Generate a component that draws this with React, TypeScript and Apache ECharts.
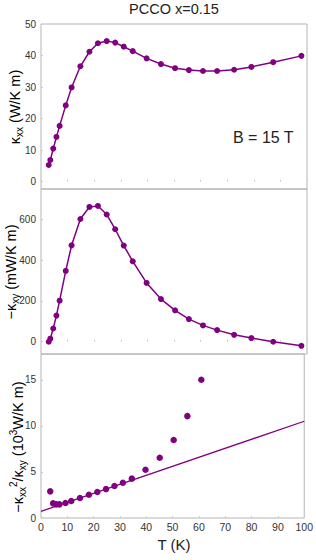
import React, { useEffect, useRef } from "react";
import * as echarts from "echarts";

const temps = [2.9, 3.5, 4.6, 5.8, 7.0, 9.3, 11.5, 14.8, 18.2, 21.4, 24.7, 27.9, 31.1, 34.5, 39.7, 45.1, 50.4, 55.6, 60.9, 66.2, 72.6, 79.1, 87.3, 97.9];
const kxx = [5.3, 6.9, 10.5, 14.2, 17.7, 24.2, 29.9, 36.6, 41.2, 43.9, 44.6, 44.1, 42.8, 41.4, 39.1, 37.3, 36.0, 35.4, 35.1, 35.1, 35.5, 36.4, 37.9, 39.9];
const kxy = [0, 15, 65, 128, 201, 347, 472, 601, 660, 665, 623, 551, 471, 394, 288, 209, 154, 111, 80, 57, 34, 18, 0, -20];
const ratioTemps = [3.5, 4.6, 5.8, 7.0, 9.3, 11.5, 14.8, 18.2, 21.4, 24.7, 27.9, 31.1, 34.5, 39.7, 45.1, 50.4, 55.6, 60.9];
const ratio = [2.89, 1.59, 1.48, 1.48, 1.63, 1.84, 2.17, 2.53, 2.82, 3.14, 3.47, 3.83, 4.27, 5.24, 6.54, 8.46, 11.06, 15.0];
const fitT = [0, 100];
const fitY = [0.72, 10.5];
const kxxTicks = [0, 10, 20, 30, 40, 50];
const kxyTicks = [0, 200, 400, 600];
const ratioTicks = [0, 5, 10, 15];

const PURPLE = "#800080";
const FONT = "'Liberation Sans', Arial, sans-serif";
const FRAME = "#b4b4b4";

const richBase = (size: number) => ({
  m: { fontSize: size, fontFamily: FONT, lineHeight: 19, color: "#222" },
  s: { fontSize: 10, fontFamily: FONT, lineHeight: 10, verticalAlign: "bottom", color: "#222" },
  p: { fontSize: 10, fontFamily: FONT, lineHeight: 10, verticalAlign: "top", color: "#222" },
});

export default function App() {
  const ref = useRef<HTMLDivElement>(null);
  useEffect(() => {
    if (!ref.current) return;
    const chart = echarts.init(ref.current, undefined, { renderer: "svg" });
    const grids = [
      { left: 41, right: 9, top: 24, height: 165 },
      { left: 41, right: 9, top: 189, height: 165 },
      { left: 41, right: 9, top: 354, height: 164 },
    ].map((g) => ({ ...g, show: true, borderColor: FRAME, borderWidth: 1, backgroundColor: "transparent" }));

    const xAxis = [0, 1, 2].map((i) => ({
      type: "value",
      gridIndex: i,
      min: 0,
      max: 100,
      interval: 10,
      axisLine: { show: false },
      splitLine: { show: false },
      axisTick: { show: true, inside: true, length: 2, lineStyle: { color: "#ccc" } },
      axisLabel: { show: i === 2, margin: 3, fontSize: 10.5, color: "#333", fontFamily: FONT },
    }));

    const yDefs = [
      { min: -2.3, max: 50, ticks: kxxTicks },
      { min: -60, max: 748, ticks: kxyTicks },
      { min: 0, max: 17.8, ticks: ratioTicks },
    ];
    const yAxis = yDefs.map((d, i) => ({
      type: "value",
      gridIndex: i,
      min: d.min,
      max: d.max,
      axisLine: { show: false },
      splitLine: { show: false },
      axisTick: { show: true, inside: true, length: 2, customValues: d.ticks, lineStyle: { color: "#ccc" } },
      axisLabel: { show: true, margin: 5, fontSize: 10, color: "#333", fontFamily: FONT, customValues: d.ticks },
    }));

    const option: any = {
      animation: false,
      grid: grids,
      xAxis,
      yAxis,
      series: [
        {
          type: "line",
          xAxisIndex: 0,
          yAxisIndex: 0,
          data: temps.map((t, i) => [t, kxx[i]]),
          symbol: "circle",
          symbolSize: 6,
          itemStyle: { color: PURPLE },
          lineStyle: { color: PURPLE, width: 1.5 },
        },
        {
          type: "line",
          xAxisIndex: 1,
          yAxisIndex: 1,
          data: temps.map((t, i) => [t, kxy[i]]),
          symbol: "circle",
          symbolSize: 6,
          itemStyle: { color: PURPLE },
          lineStyle: { color: PURPLE, width: 1.5 },
        },
        {
          type: "scatter",
          xAxisIndex: 2,
          yAxisIndex: 2,
          data: ratioTemps.map((t, i) => [t, ratio[i]]),
          symbol: "circle",
          symbolSize: 6.5,
          itemStyle: { color: PURPLE, opacity: 1 },
        },
        {
          type: "line",
          xAxisIndex: 2,
          yAxisIndex: 2,
          data: fitT.map((t, i) => [t, fitY[i]]),
          symbol: "none",
          lineStyle: { color: PURPLE, width: 1.3 },
        },
      ],
      graphic: [
        {
          type: "text",
          x: 174,
          y: 9,
          style: { text: "PCCO x=0.15", fontSize: 14.5, fontFamily: FONT, fill: "#222", align: "center", verticalAlign: "middle" },
        },
        {
          type: "text",
          x: 233,
          y: 137,
          style: { text: "B = 15 T", fontSize: 16, fontFamily: FONT, fill: "#222", align: "left", verticalAlign: "middle" },
        },
        {
          type: "text",
          x: 174,
          y: 544,
          style: { text: "T (K)", fontSize: 15, fontFamily: FONT, fill: "#222", align: "center", verticalAlign: "middle" },
        },
        {
          type: "text",
          x: 15,
          y: 107,
          rotation: Math.PI / 2,
          style: {
            text: "{m|κ}{s|xx}{m| (W/K m)}",
            rich: richBase(14.5),
            fontFamily: FONT,
            align: "center",
            verticalAlign: "middle",
          },
        },
        {
          type: "text",
          x: 11,
          y: 272,
          rotation: Math.PI / 2,
          style: {
            text: "{m|−κ}{s|xy}{m| (mW/K m)}",
            rich: richBase(14.5),
            fontFamily: FONT,
            align: "center",
            verticalAlign: "middle",
          },
        },
        {
          type: "text",
          x: 18,
          y: 447,
          rotation: Math.PI / 2,
          style: {
            text: "{m|−κ}{s|xx}{p|2}{m|/κ}{s|xy}{m| (10}{p|3}{m|W/K m)}",
            rich: richBase(14.5),
            fontFamily: FONT,
            align: "center",
            verticalAlign: "middle",
          },
        },
      ],
    };
    chart.setOption(option);
    return () => chart.dispose();
  }, []);
  return <div ref={ref} style={{ position: "fixed", left: 0, top: 0, width: 316, height: 560, background: "#fff" }} />;
}
